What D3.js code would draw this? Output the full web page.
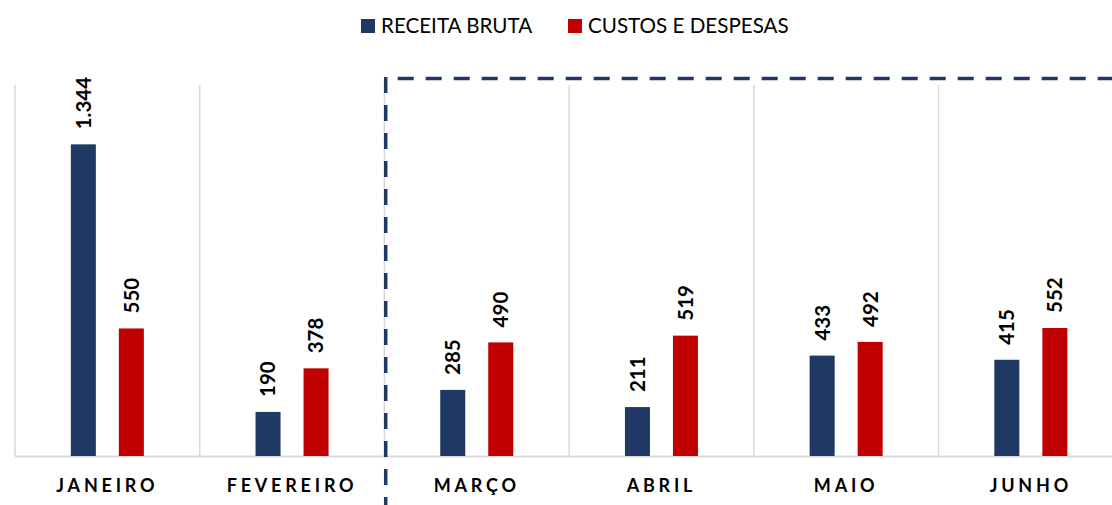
<!DOCTYPE html>
<html>
<head>
<meta charset="utf-8">
<script src="https://cdn.jsdelivr.net/npm/d3@7"></script>
<style>
  html, body { margin: 0; padding: 0; background: #fff; }
  svg { display: block; }
</style>
</head>
<body>
<svg id="chart" width="1112" height="505"></svg>
<script>
const categories = ["JANEIRO", "FEVEREIRO", "MARÇO", "ABRIL", "MAIO", "JUNHO"];
const seriesNames = ["RECEITA BRUTA", "CUSTOS E DESPESAS"];
const receitaBruta = [1344, 190, 285, 211, 433, 415];
const custosDespesas = [550, 378, 490, 519, 492, 552];
const seriesColors = ["#1f3864", "#c00000"];
const yMax = 1600;
const dashedFrom = "MARÇO";

const W = 1112, H = 505;
const plotLeft = 15, bandW = 184.7, baseY = 456, topY = 85;

const svg = d3.select("#chart");
const fmt = d3.formatLocale({decimal: ",", thousands: ".", grouping: [3], currency: ["R$", ""]}).format(",d");

const x0 = d3.scaleBand().domain(categories).range([plotLeft, plotLeft + bandW * categories.length]).paddingInner(0).paddingOuter(0);
const x1 = d3.scaleBand().domain(seriesNames).range([0, x0.bandwidth()]).paddingInner(0.479).paddingOuter(1.163);
const y = d3.scaleLinear().domain([0, yMax]).range([baseY, topY]);

const values = [receitaBruta, custosDespesas];
const rows = categories.map((c, i) => ({cat: c, vals: seriesNames.map((s, j) => ({s, j, v: values[j][i]}))}));

// vertical gridlines
svg.append("g").selectAll("line").data(categories).join("line")
  .attr("x1", d => x0(d)).attr("x2", d => x0(d))
  .attr("y1", topY).attr("y2", baseY)
  .attr("stroke", "#d9d9d9").attr("stroke-width", 1.5);

// baseline axis
svg.append("line").attr("x1", plotLeft).attr("x2", W).attr("y1", baseY + 0.5).attr("y2", baseY + 0.5)
  .attr("stroke", "#d9d9d9").attr("stroke-width", 2);

// bars
const g = svg.append("g").selectAll("g").data(rows).join("g")
  .attr("transform", d => `translate(${x0(d.cat)},0)`);
g.selectAll("rect").data(d => d.vals).join("rect")
  .attr("x", d => x1(d.s)).attr("width", x1.bandwidth())
  .attr("y", d => y(d.v)).attr("height", d => baseY - y(d.v))
  .attr("fill", d => seriesColors[d.j]);

// value labels
g.selectAll("text").data(d => d.vals).join("text")
  .attr("transform", d => `translate(${x1(d.s) + x1.bandwidth() / 2},${y(d.v) - 15}) rotate(-90)`)
  .attr("dy", "0.36em")
  .attr("text-anchor", "start")
  .attr("font-family", "Lato, 'Liberation Sans', sans-serif")
  .attr("font-weight", "bold")
  .attr("font-size", 20.5)
  .attr("fill", "#000")
  .text(d => fmt(d.v));

// category labels
svg.append("g").selectAll("text").data(categories).join("text")
  .attr("x", d => x0(d) + x0.bandwidth() / 2)
  .attr("y", 492)
  .attr("text-anchor", "middle")
  .attr("font-family", "Lato, 'Liberation Sans', sans-serif")
  .attr("font-weight", "bold")
  .attr("font-size", 18)
  .attr("letter-spacing", 3.8)
  .attr("fill", "#000")
  .text(d => d);

// dashed bracket
const dx = x0(dashedFrom) + 1.3, dy = 78.5;
svg.append("line").attr("x1", dx).attr("x2", dx).attr("y1", dy - 1.5).attr("y2", H + 10)
  .attr("stroke", "#203864").attr("stroke-width", 3.5).attr("stroke-dasharray", "16,12");
svg.append("line").attr("x1", dx).attr("x2", W + 20).attr("y1", dy).attr("y2", dy)
  .attr("stroke", "#203864").attr("stroke-width", 3.5).attr("stroke-dasharray", "16,12").attr("stroke-dashoffset", 16);

// legend
const legendX = [361, 568];
const lg = svg.append("g").selectAll("g").data(seriesNames).join("g")
  .attr("transform", (d, i) => `translate(${legendX[i]},19)`);
lg.append("rect").attr("width", 14).attr("height", 14).attr("fill", (d, i) => seriesColors[i]);
lg.append("text").attr("x", 20).attr("y", 14)
  .attr("font-family", "Lato, 'Liberation Sans', sans-serif")
  .attr("font-size", 20.6)
  .attr("fill", "#000")
  .text(d => d);
</script>
</body>
</html>
